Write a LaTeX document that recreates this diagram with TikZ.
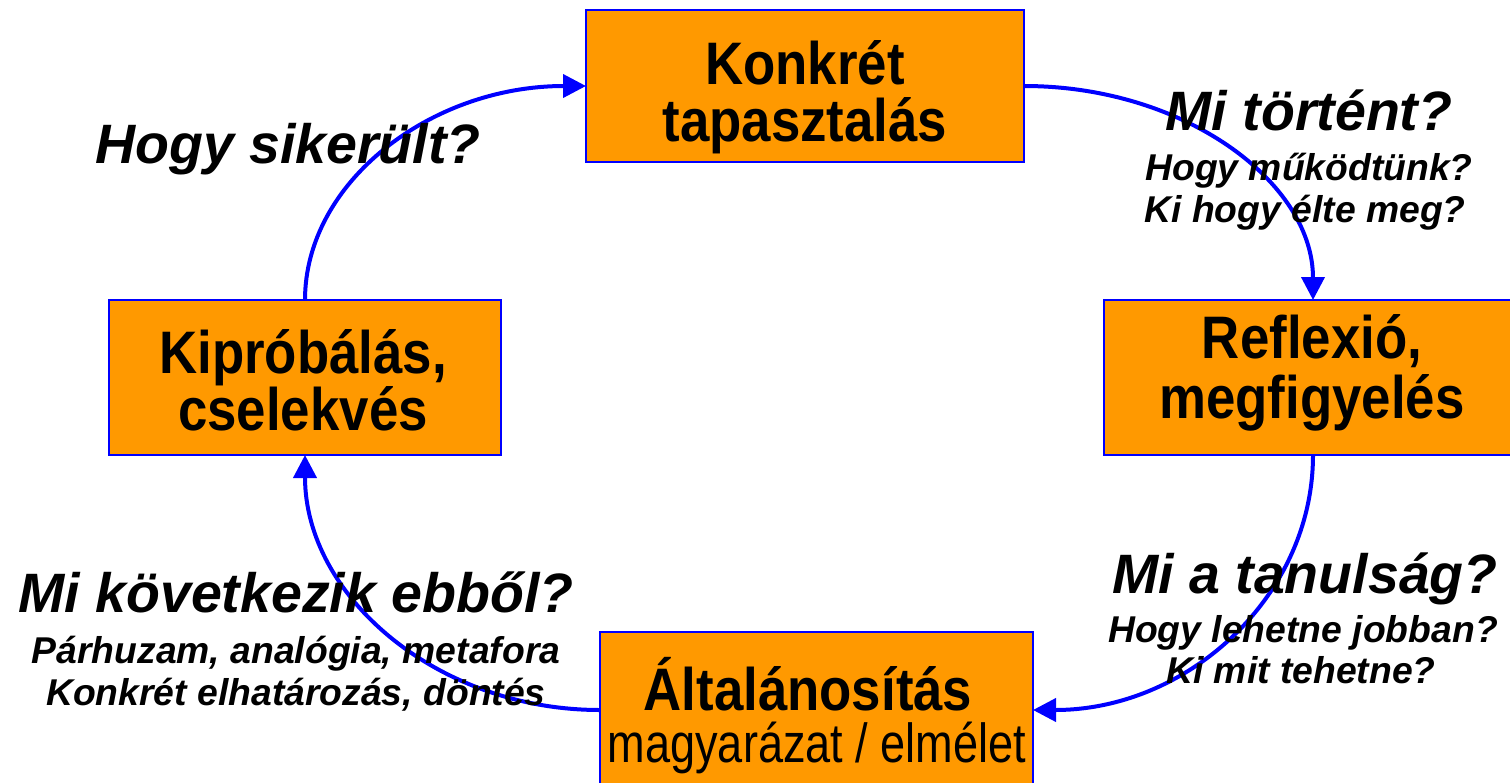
\documentclass[tikz,border=0pt]{standalone}
\usepackage{fontspec}
\setmainfont{Liberation Sans}
\usetikzlibrary{arrows.meta}
\definecolor{boxorange}{RGB}{255,153,0}
\definecolor{cycblue}{RGB}{0,0,255}
\tikzset{
  stagebox/.style={draw=cycblue, line width=1.5pt, fill=boxorange, inner sep=0pt, outer sep=0pt, rectangle},
  boxtext/.style={anchor=base, inner sep=0pt, font=\addfontfeatures{FakeStretch=0.88}\fontsize{60}{60}\selectfont\bfseries},
  boxsub/.style={anchor=base, inner sep=0pt, font=\addfontfeatures{FakeStretch=0.82}\fontsize{55}{55}\selectfont},
  bigq/.style={anchor=base, inner sep=0pt, font=\fontsize{55.5}{60}\selectfont\bfseries\itshape},
  smallq/.style={anchor=base, inner sep=0pt, font=\fontsize{37.3}{40}\selectfont\bfseries\itshape},
  cycarrow/.style={draw=cycblue, line width=4pt, -{Triangle[length=23pt,width=23pt]}}
}
\begin{document}
\begin{tikzpicture}[x=1pt,y=-1pt]
\useasboundingbox (0,0) rectangle (1510,782);
\clip (0,0) rectangle (1510,782);
% boxes
\node[stagebox, minimum width=438pt, minimum height=152pt] (top) at (805,86) {};
\node[stagebox, minimum width=392pt, minimum height=155pt] (left) at (305,377.5) {};
\node[stagebox, minimum width=418pt, minimum height=155pt] (right) at (1313,377.5) {};
\node[stagebox, minimum width=433pt, minimum height=156pt] (bottom) at (816.5,710) {};
% box texts
\node[boxtext] (t1) at (805,84) {Konkrét};
\node[boxtext] (t2) at (805,141) {tapasztalás};
\node[boxtext] (r1) at (1312,358) {Reflexió,};
\node[boxtext] (r2) at (1312,418) {megfigyelés};
\node[boxtext] (l1) at (303,373) {Kipróbálás,};
\node[boxtext] (l2) at (303,430) {cselekvés};
\node[boxtext] (b1) at (808,710) {Általánosítás};
\node[boxsub] (b2) at (817,762) {magyarázat / elmélet};
% arrows
\draw[cycarrow] (left.north) .. controls +(0,-118) and +(-155,0) .. (top.west);
\draw[cycarrow] (top.east) .. controls +(160,0) and +(0,-118) .. (right.north);
\draw[cycarrow] (right.south) .. controls +(0,141) and +(155,0) .. (bottom.east);
\draw[cycarrow] (bottom.west) .. controls +(-163,0) and +(0,141) .. (left.south);
% questions
\node[bigq] (q1) at (288,163) {Hogy sikerült?};
\node[bigq] (q2) at (1309,130) {Mi történt?};
\node[smallq] (q2a) at (1309,180) {Hogy működtünk?};
\node[smallq] (q2b) at (1305,222) {Ki hogy élte meg?};
\node[bigq] (q3) at (1305,593) {Mi a tanulság?};
\node[smallq] (q3a) at (1303,642) {Hogy lehetne jobban?};
\node[smallq] (q3b) at (1301,683) {Ki mit tehetne?};
\node[bigq] (q4) at (296,612) {Mi következik ebből?};
\node[smallq] (q4a) at (296,663) {Párhuzam, analógia, metafora};
\node[smallq] (q4b) at (296,705) {Konkrét elhatározás, döntés};
\end{tikzpicture}
\end{document}
